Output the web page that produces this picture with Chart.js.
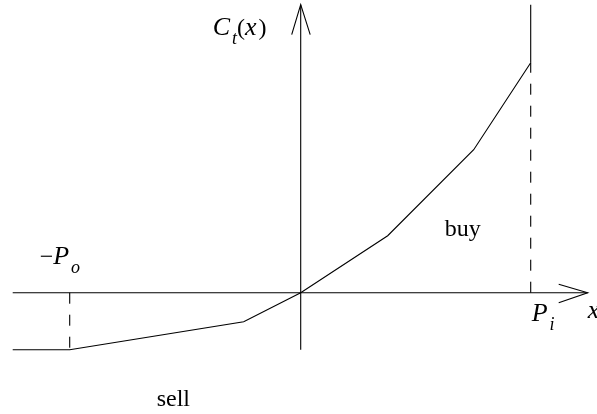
<!DOCTYPE html>
<html>
<head>
<meta charset="utf-8">
<script src="https://cdn.jsdelivr.net/npm/chart.js@4"></script>
<style>
    html, body { margin: 0; padding: 0; background: #fff; }
    #wrap { width: 597px; height: 414px; }
</style>
</head>
<body>
<div id="wrap"><canvas id="costGraph"></canvas></div>
<script>
// cost curve C_t(x), units measured from the origin
const curveX = [-288, -231, -57, 0, 87, 173, 230]
const curveY = [-57, -57, -29, 0, 57, 143, 230]

// axes and guide lines
const axisX = [-288, 287]
const axisY = [-57, 288]
const outLimit = -231   // -P_o
const inLimit = 230     // P_i
const topY = 288

const arrowUpX = [-9, 0, 9.5]
const arrowUpY = [258, 288, 258]
const arrowRightX = [258, 287, 258]
const arrowRightY = [8.5, 0, -10]

// text pieces: [text, kind] with kind up / it / sub
const notes = [
    { x: -88, y: 258, parts: [["C", "it"], ["t", "sub"], ["(", "up"], ["x", "it"], [")", "up"]] },
    { x: -261, y: 29, parts: [["\u2212", "up"], ["P", "it"], ["o", "sub"]] },
    { x: 231, y: -28, parts: [["P", "it"], ["i", "sub"]] },
    { x: 287, y: -25, parts: [["x", "it"]] },
    { x: 144, y: 57, parts: [["buy", "up"]] },
    { x: -144, y: -113, parts: [["sell", "up"]] }
]

function pts(xs, ys) {
    return xs.map((x, i) => ({ x: x, y: ys[i] }))
}

function line(data, dash) {
    return {
        data: data,
        showLine: true,
        borderColor: "#000",
        borderWidth: 1.1,
        borderDash: dash || [],
        pointRadius: 0,
        tension: 0
    }
}

const fonts = {
    up: "24px 'Liberation Serif'",
    it: "italic 26px 'Liberation Serif'",
    sub: "italic 18px 'Liberation Serif'"
}

const textPlugin = {
    id: "notes",
    afterDatasetsDraw(chart) {
        const ctx = chart.ctx
        ctx.save()
        ctx.fillStyle = "#000"
        ctx.textBaseline = "alphabetic"
        notes.forEach(n => {
            let px = chart.scales.x.getPixelForValue(n.x)
            const py = chart.scales.y.getPixelForValue(n.y)
            n.parts.forEach(p => {
                ctx.font = fonts[p[1]]
                ctx.fillText(p[0], px, p[1] === "sub" ? py + 9 : py)
                px += ctx.measureText(p[0]).width + (p[1] === "it" ? 2 : 0)
            })
        })
        ctx.restore()
    }
}

new Chart("costGraph", {
    type: "scatter",
    data: {
        datasets: [
            line(pts(curveX, curveY)),
            line(pts(axisX, [0, 0])),
            line(pts([0, 0], axisY)),
            line(pts(arrowUpX, arrowUpY)),
            line(pts(arrowRightX, arrowRightY)),
            line(pts([inLimit, inLimit], [curveY[6], topY])),
            line(pts([inLimit, inLimit], [0, curveY[6]]), [11, 11]),
            line(pts([outLimit, outLimit], [0, curveY[1]]), [11, 11])
        ]
    },
    options: {
        responsive: true,
        maintainAspectRatio: false,
        animation: false,
        layout: { padding: 0 },
        plugins: {
            legend: { display: false },
            tooltip: { enabled: false }
        },
        scales: {
            x: { type: "linear", min: -300.7, max: 296.3, display: false },
            y: { type: "linear", min: -121.3, max: 292.7, display: false }
        }
    },
    plugins: [textPlugin]
})
</script>
</body>
</html>
